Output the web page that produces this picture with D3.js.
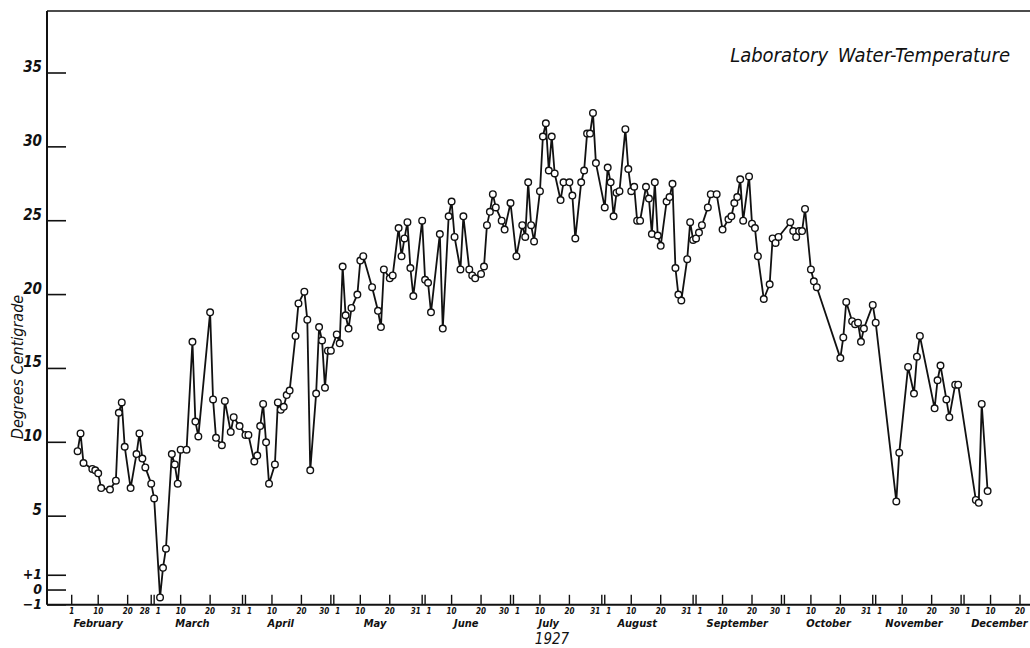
<!DOCTYPE html>
<html>
<head>
<meta charset="utf-8">
<script src="https://cdn.jsdelivr.net/npm/d3@7"></script>
<style>
  body { margin: 0; background: #fff; }
  svg text { font-family: "DejaVu Sans Condensed", "Liberation Sans Narrow", "DejaVu Sans", sans-serif; font-style: italic; fill: #111; }
</style>
</head>
<body>
<script>
// observation days (1927) and lab water temperature, deg C
const obsDates = [
  "02-03","02-04","02-05","02-08","02-09","02-10","02-11","02-14","02-16","02-17","02-18","02-19","02-21","02-23","02-24","02-25","02-26","02-28",
  "03-01","03-03","03-04","03-05","03-07","03-08","03-09","03-10","03-12","03-14","03-15","03-16","03-20","03-21","03-22","03-24","03-25","03-27","03-28","03-30",
  "04-01","04-02","04-04","04-05","04-06","04-07","04-08","04-09","04-11","04-12","04-13","04-14","04-15","04-16","04-18","04-19","04-21","04-22","04-23","04-25","04-26","04-27","04-28","04-29","04-30",
  "05-02","05-03","05-04","05-05","05-06","05-07","05-09","05-10","05-11","05-14","05-16","05-17","05-18","05-20","05-21","05-23","05-24","05-25","05-26","05-27","05-28","05-31",
  "06-01","06-02","06-03","06-06","06-07","06-09","06-10","06-11","06-13","06-14","06-16","06-17","06-18","06-20","06-21","06-22","06-23","06-24","06-25","06-27","06-28","06-30",
  "07-02","07-04","07-05","07-06","07-07","07-08","07-10","07-11","07-12","07-13","07-14","07-15","07-17","07-18","07-20","07-21","07-22","07-24","07-25","07-26","07-27","07-28","07-29",
  "08-01","08-02","08-03","08-04","08-05","08-06","08-08","08-09","08-10","08-11","08-12","08-13","08-15","08-16","08-17","08-18","08-19","08-20","08-22","08-23","08-24","08-25","08-26","08-27","08-29","08-30","08-31",
  "09-01","09-02","09-03","09-05","09-06","09-08","09-10","09-12","09-13","09-14","09-15","09-16","09-17","09-19","09-20","09-21","09-22","09-24","09-26","09-27","09-28","09-29",
  "10-03","10-04","10-05","10-06","10-07","10-08","10-10","10-11","10-12","10-20","10-21","10-22","10-24","10-25","10-26","10-27","10-28","10-31",
  "11-01","11-08","11-09","11-12","11-14","11-15","11-16","11-21","11-22","11-23","11-25","11-26","11-28","11-29",
  "12-05","12-06","12-07","12-09"
];
const temps = [
  9.4,10.6,8.6,8.2,8.1,7.9,6.9,6.8,7.4,12.0,12.7,9.7,6.9,9.2,10.6,8.9,8.3,7.2,
  6.2,-0.5,1.5,2.8,9.2,8.5,7.2,9.5,9.5,16.8,11.4,10.4,18.8,12.9,10.3,9.8,12.8,10.7,11.7,11.1,
  10.5,10.5,8.7,9.1,11.1,12.6,10.0,7.2,8.5,12.7,12.2,12.4,13.2,13.5,17.2,19.4,20.2,18.3,8.1,13.3,17.8,16.9,13.7,16.2,16.2,
  17.3,16.7,21.9,18.6,17.7,19.1,20.0,22.3,22.6,20.5,18.9,17.8,21.7,21.1,21.3,24.5,22.6,23.8,24.9,21.8,19.9,25.0,
  21.0,20.8,18.8,24.1,17.7,25.3,26.3,23.9,21.7,25.3,21.7,21.3,21.1,21.4,21.9,24.7,25.6,26.8,25.9,25.0,24.4,26.2,
  22.6,24.7,23.9,27.6,24.7,23.6,27.0,30.7,31.6,28.4,30.7,28.2,26.4,27.6,27.6,26.7,23.8,27.6,28.4,30.9,30.9,32.3,28.9,
  25.9,28.6,27.6,25.3,26.9,27.0,31.2,28.5,27.0,27.3,25.0,25.0,27.3,26.5,24.1,27.6,24.0,23.3,26.3,26.6,27.5,21.8,20.0,19.6,22.4,24.9,23.7,
  23.8,24.2,24.7,25.9,26.8,26.8,24.4,25.1,25.3,26.2,26.6,27.8,25.0,28.0,24.8,24.5,22.6,19.7,20.7,23.8,23.5,23.9,
  24.9,24.3,23.9,24.3,24.3,25.8,21.7,20.9,20.5,15.7,17.1,19.5,18.2,18.0,18.1,16.8,17.7,19.3,
  18.1,6.0,9.3,15.1,13.3,15.8,17.2,12.3,14.2,15.2,12.9,11.7,13.9,13.9,
  6.1,5.9,12.6,6.7
];

const yTicksMain = [35, 30, 25, 20, 15, 10, 5];
const yTicksLow = [1, 0, -1];
const yTicksLowLabels = ["+1", "0", "\u22121"];
const monthNames = ["February","March","April","May","June","July","August","September","October","November","December"];
const monthLabelDay = [10, 14, 13, 15, 15, 13, 12, 15, 16, 14, 13];
const tickDays = [10, 20];

const W = 1030, H = 648;
const parse = d3.utcParse("%Y-%m-%d");
const data = obsDates.map((d, i) => ({ date: parse("1927-" + d), t: temps[i] }));

const svg = d3.select("body").append("svg")
  .attr("width", W)
  .attr("height", H);

const axisX = 47;
const x = d3.scaleUtc()
  .domain([parse("1927-02-01"), parse("1927-12-20")])
  .range([71.7, 1020]);
const y = d3.scaleLinear()
  .domain([-1, 35])
  .range([604.8, 73]);

// frame: left axis + top line
svg.append("line")
  .attr("x1", axisX).attr("x2", axisX)
  .attr("y1", y(39.2)).attr("y2", y(-1))
  .attr("stroke", "#111").attr("stroke-width", 2);
svg.append("line")
  .attr("x1", axisX).attr("x2", W)
  .attr("y1", y(39.2)).attr("y2", y(39.2))
  .attr("stroke", "#111").attr("stroke-width", 1.5);
// bottom axis line
svg.append("line")
  .attr("x1", axisX).attr("x2", W)
  .attr("y1", y(-1)).attr("y2", y(-1))
  .attr("stroke", "#111").attr("stroke-width", 2);

// y ticks
const allY = yTicksMain.concat(yTicksLow);
svg.selectAll("line.ytick")
  .data(allY)
  .enter().append("line")
  .attr("class", "ytick")
  .attr("x1", axisX).attr("x2", axisX + 19)
  .attr("y1", d => y(d)).attr("y2", d => y(d))
  .attr("stroke", "#111").attr("stroke-width", 1.6);

svg.selectAll("text.ylab")
  .data(yTicksMain)
  .enter().append("text")
  .attr("class", "ylab")
  .attr("x", axisX - 5)
  .attr("y", d => y(d) - 1)
  .attr("text-anchor", "end")
  .attr("font-size", 15)
  .attr("font-weight", 600)
  .text(d => d);

svg.selectAll("text.ylow")
  .data(yTicksLow)
  .enter().append("text")
  .attr("class", "ylow")
  .attr("x", axisX - 5)
  .attr("y", d => y(d) + 4)
  .attr("text-anchor", "end")
  .attr("font-size", 14)
  .attr("font-weight", 600)
  .text((d, i) => yTicksLowLabels[i]);

svg.append("text")
  .attr("transform", `translate(23,${367}) rotate(-90)`)
  .attr("text-anchor", "middle")
  .attr("font-size", 16)
  .text("Degrees  Centigrade");

// x ticks: 1st, 10th, 20th and last day of each month
const allDays = d3.utcDay.range(parse("1927-02-01"), parse("1927-12-21"));
const isMonthEnd = d => new Date(d.getTime() + 864e5).getUTCDate() === 1;
const xticks = allDays.filter(d =>
  d.getUTCDate() === 1 || tickDays.includes(d.getUTCDate()) || isMonthEnd(d));

svg.selectAll("line.xtick")
  .data(xticks)
  .enter().append("line")
  .attr("class", "xtick")
  .attr("x1", d => x(d)).attr("x2", d => x(d))
  .attr("y1", y(-1)).attr("y2", y(-1) - 10)
  .attr("stroke", "#111").attr("stroke-width", 1.4);

svg.selectAll("text.xlab")
  .data(xticks)
  .enter().append("text")
  .attr("class", "xlab")
  .attr("x", d => {
    if (isMonthEnd(d)) return x(d) - 1.5;
    if (d.getUTCDate() === 1 && d.getUTCMonth() > 1) return x(d) + 1.5;
    return x(d);
  })
  .attr("y", 614)
  .attr("text-anchor", d => {
    if (isMonthEnd(d)) return "end";
    if (d.getUTCDate() === 1 && d.getUTCMonth() > 1) return "start";
    return "middle";
  })
  .attr("font-size", 8)
  .attr("font-weight", "bold")
  .text(d => d.getUTCDate());

svg.selectAll("text.month")
  .data(monthNames)
  .enter().append("text")
  .attr("class", "month")
  .attr("x", (d, i) => x(Date.UTC(1927, i + 1, monthLabelDay[i])))
  .attr("y", 627)
  .attr("text-anchor", "middle")
  .attr("font-size", 11)
  .attr("font-weight", "bold")
  .text(d => d);

svg.append("text")
  .attr("x", 552)
  .attr("y", 644)
  .attr("text-anchor", "middle")
  .attr("font-size", 15)
  .text("1927");

// title
svg.append("text")
  .attr("x", 1010)
  .attr("y", 62)
  .attr("text-anchor", "end")
  .attr("font-size", 20)
  .attr("word-spacing", 4)
  .text("Laboratory Water-Temperature");

// temperature curve
const line = d3.line()
  .x(d => x(d.date))
  .y(d => y(d.t));
svg.append("path")
  .datum(data)
  .attr("fill", "none")
  .attr("stroke", "#111")
  .attr("stroke-width", 1.8)
  .attr("stroke-linejoin", "round")
  .attr("d", line);

svg.selectAll("circle.pt")
  .data(data)
  .enter().append("circle")
  .attr("class", "pt")
  .attr("cx", d => x(d.date))
  .attr("cy", d => y(d.t))
  .attr("r", 3.3)
  .attr("fill", "#fff")
  .attr("stroke", "#111")
  .attr("stroke-width", 1.4);
</script>
</body>
</html>
